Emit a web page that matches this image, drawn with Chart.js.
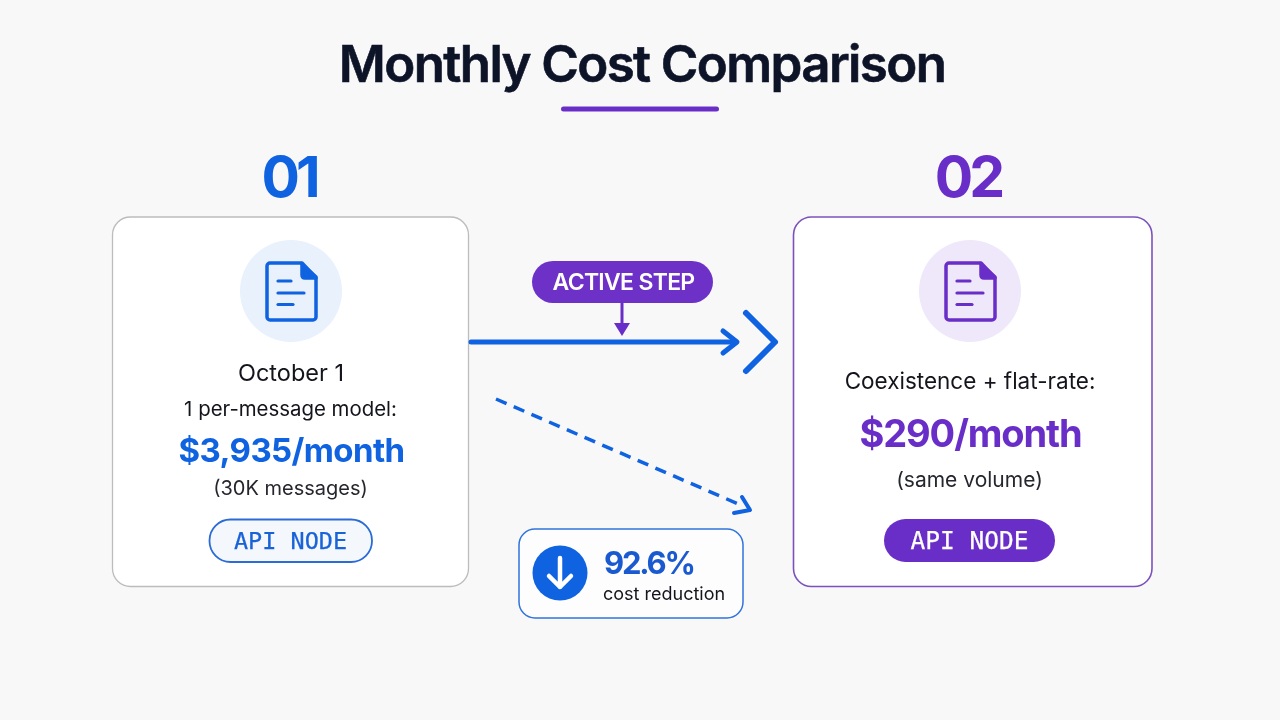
<!DOCTYPE html>
<html>
<head>
<meta charset="utf-8">
<title>Monthly Cost Comparison</title>
<script src="https://cdn.jsdelivr.net/npm/chart.js@4"></script>
<style>
  html, body { margin: 0; padding: 0; background: #f9f8f9; }
  #wrap { position: relative; width: 1280px; height: 720px; }
</style>
</head>
<body>
<div id="wrap"><canvas id="myChart"></canvas></div>
<script>
// values and labels
var titleText = "Monthly Cost Comparison";
var stepLabels = ["01", "02"];
var monthlyCosts = [3935, 290];
var firstCardLines = ["October 1", "1 per-message model:", "(30K messages)"];
var secondCardLines = ["Coexistence + flat-rate:", "(same volume)"];
var nodeLabel = "API NODE";
var activeLabel = "ACTIVE STEP";
var reductionPct = [92.6];
var reductionLabel = "cost reduction";

var BLUE = "#0f62e0";
var PURPLE = "#6a2ec8";
var INK = "#14151c";
var SANS = "Inter, 'Noto Sans', sans-serif";
var MONO = "'DejaVu Sans Mono', monospace";

function money(v) {
  return "$" + v.toLocaleString("en-US") + "/month";
}

function pts(list) {
  return list.map(function (p) { return { x: p[0], y: p[1] }; });
}

// connectors, in the 1280x720 diagram space of the two hidden axes
function stroke(list, color, width, dash) {
  return {
    data: pts(list),
    showLine: true,
    pointRadius: 0,
    borderColor: color,
    backgroundColor: color,
    borderWidth: width,
    borderDash: dash || [],
    borderCapStyle: dash ? "butt" : "round",
    borderJoinStyle: "round",
    tension: 0,
  };
}

var connectors = [
  stroke([[471, 342], [736, 342]], BLUE, 5),
  stroke([[723, 331], [737, 342], [723, 353]], BLUE, 5),
  stroke([[746, 313], [775, 342], [746, 371]], BLUE, 6),
  stroke([[622, 303], [622, 326]], PURPLE, 3),
  stroke([[496, 399], [743, 506]], BLUE, 3.5, [11.5, 7.8]),
  stroke([[742, 497], [750, 510], [734, 513]], BLUE, 4),
];

function roundBox(ctx, x0, y0, x1, y1, r, fill, line, lw) {
  var s = ctx.chart.scales;
  var l = s.x.getPixelForValue(x0), t = s.y.getPixelForValue(y0);
  var w = s.x.getPixelForValue(x1) - l, h = s.y.getPixelForValue(y1) - t;
  ctx.beginPath();
  ctx.roundRect(l, t, w, h, r);
  if (fill) { ctx.fillStyle = fill; ctx.fill(); }
  if (line) { ctx.strokeStyle = line; ctx.lineWidth = lw; ctx.stroke(); }
}

function label(ctx, text, x, y, font, color, align, spacing, heavy) {
  var s = ctx.chart.scales;
  var px = s.x.getPixelForValue(x), py = s.y.getPixelForValue(y);
  ctx.font = font;
  ctx.fillStyle = color;
  ctx.textAlign = align || "center";
  ctx.textBaseline = "alphabetic";
  ctx.letterSpacing = spacing || "0px";
  ctx.fillText(text, px, py);
  if (heavy) {
    // no medium cut of the mono font, so thicken the regular one a little
    ctx.strokeStyle = color;
    ctx.lineWidth = heavy;
    ctx.strokeText(text, px, py);
  }
  ctx.letterSpacing = "0px";
}

function circle(ctx, x, y, r, fill) {
  var s = ctx.chart.scales;
  ctx.beginPath();
  ctx.arc(s.x.getPixelForValue(x), s.y.getPixelForValue(y), r, 0, Math.PI * 2);
  ctx.fillStyle = fill;
  ctx.fill();
}

function docIcon(ctx, cx, cy, color) {
  var s = ctx.chart.scales;
  var X = s.x.getPixelForValue(cx), Y = s.y.getPixelForValue(cy);
  ctx.save();
  ctx.translate(X, Y);
  ctx.strokeStyle = color;
  ctx.fillStyle = color;
  ctx.lineWidth = 3.5;
  ctx.lineJoin = "round";
  ctx.lineCap = "round";
  // outline
  ctx.beginPath();
  ctx.moveTo(10, -28);
  ctx.lineTo(-21, -28);
  ctx.arcTo(-24, -28, -24, -25, 3);
  ctx.lineTo(-24, 26);
  ctx.arcTo(-24, 29, -21, 29, 3);
  ctx.lineTo(22, 29);
  ctx.arcTo(25, 29, 25, 26, 3);
  ctx.lineTo(25, -14);
  ctx.closePath();
  ctx.stroke();
  // folded corner
  ctx.beginPath();
  ctx.moveTo(11, -28);
  ctx.lineTo(25, -13);
  ctx.lineTo(14, -13);
  ctx.quadraticCurveTo(11, -13, 11, -16);
  ctx.closePath();
  ctx.fill();
  ctx.stroke();
  // text lines
  ctx.lineWidth = 3.2;
  [[-13, 0, -10], [-13, 13, 2], [-13, 2, 13.5]].forEach(function (l) {
    ctx.beginPath();
    ctx.moveTo(l[0], l[2]);
    ctx.lineTo(l[1], l[2]);
    ctx.stroke();
  });
  ctx.restore();
}

function downArrow(ctx, cx, cy) {
  var s = ctx.chart.scales;
  var X = s.x.getPixelForValue(cx), Y = s.y.getPixelForValue(cy);
  ctx.strokeStyle = "#ffffff";
  ctx.lineWidth = 4.5;
  ctx.lineCap = "round";
  ctx.lineJoin = "round";
  ctx.beginPath();
  ctx.moveTo(X, Y - 15);
  ctx.lineTo(X, Y + 14);
  ctx.moveTo(X - 11, Y + 3);
  ctx.lineTo(X, Y + 14);
  ctx.lineTo(X + 11, Y + 3);
  ctx.stroke();
}

var panels = {
  id: "panels",
  beforeDatasetsDraw: function (chart) {
    var ctx = chart.ctx;
    ctx.chart = chart;
    ctx.save();
    roundBox(ctx, 561, 106.5, 719, 111.5, 2.5, PURPLE);
    roundBox(ctx, 112.5, 217, 468.5, 586.5, 18, "#ffffff", "#bcbcbc", 1.3);
    roundBox(ctx, 793.5, 217, 1152, 586.5, 18, "#ffffff", "#7b52bd", 1.6);
    circle(ctx, 291, 291, 51, "#e8f1fc");
    circle(ctx, 970, 291, 51, "#efe8fb");
    roundBox(ctx, 209.5, 519.5, 372, 562, 21, "#f4f8fd", "#2a6bd6", 1.8);
    roundBox(ctx, 884, 519, 1055, 562, 21.5, PURPLE);
    roundBox(ctx, 532, 261, 713, 303, 21, "#6d31c8");
    roundBox(ctx, 519, 529, 743, 618, 16, "#fdfdfe", "#2f74dc", 1.5);
    ctx.restore();
  },
  afterDatasetsDraw: function (chart) {
    var ctx = chart.ctx;
    var s = chart.scales;
    ctx.chart = chart;
    ctx.save();

    // head of the small purple arrow
    ctx.fillStyle = PURPLE;
    ctx.beginPath();
    ctx.moveTo(s.x.getPixelForValue(614), s.y.getPixelForValue(323));
    ctx.lineTo(s.x.getPixelForValue(630), s.y.getPixelForValue(323));
    ctx.lineTo(s.x.getPixelForValue(622), s.y.getPixelForValue(336));
    ctx.closePath();
    ctx.fill();

    label(ctx, titleText, 642, 82, "600 51px " + SANS, "#0e1428", "center", "-1.6px", 0.6);
    label(ctx, stepLabels[0], 289, 197, "700 57px " + SANS, BLUE, "center", "-4px");
    label(ctx, stepLabels[1], 968, 197, "700 57px " + SANS, PURPLE, "center", "-4px");

    docIcon(ctx, 291, 291, BLUE);
    docIcon(ctx, 970, 291, PURPLE);

    label(ctx, firstCardLines[0], 291, 381, "400 23.5px " + SANS, INK);
    label(ctx, firstCardLines[1], 290.5, 416, "400 20.4px " + SANS, INK);
    label(ctx, money(monthlyCosts[0]), 291.5, 462, "700 33px " + SANS, BLUE, "center", "-0.6px");
    label(ctx, firstCardLines[2], 290.5, 495, "400 20px " + SANS, "#26272e");
    label(ctx, nodeLabel, 290.5, 549, "400 23.5px " + MONO, "#1a62d8", "center", "0px", 0.25);

    label(ctx, secondCardLines[0], 970, 389, "400 22.5px " + SANS, INK);
    label(ctx, money(monthlyCosts[1]), 970.5, 447, "700 38px " + SANS, PURPLE, "center", "-1.1px");
    label(ctx, secondCardLines[1], 969.5, 487, "400 21px " + SANS, "#26272e");
    label(ctx, nodeLabel, 969.5, 549, "400 24.5px " + MONO, "#ffffff", "center", "0px", 0.25);

    label(ctx, activeLabel, 623.5, 290, "600 23px " + SANS, "#ffffff", "center", "-0.7px");

    circle(ctx, 560, 573, 27.5, BLUE);
    downArrow(ctx, 560, 573);
    label(ctx, reductionPct[0] + "%", 604, 574, "700 31px " + SANS, "#1a5ad0", "left", "-2.2px");
    label(ctx, reductionLabel, 603, 600, "400 18px " + SANS, INK, "left");
    ctx.restore();
  },
};

var ctx = document.getElementById("myChart").getContext("2d");
var myChart = new Chart(ctx, {
  type: "scatter",
  data: { datasets: connectors },
  plugins: [panels],
  options: {
    responsive: true,
    maintainAspectRatio: false,
    animation: false,
    layout: { padding: 0 },
    scales: {
      x: { type: "linear", min: 0, max: 1280, display: false },
      y: { type: "linear", min: 0, max: 720, reverse: true, display: false },
    },
    plugins: {
      legend: { display: false },
      tooltip: { enabled: false },
    },
  },
});
</script>
</body>
</html>
